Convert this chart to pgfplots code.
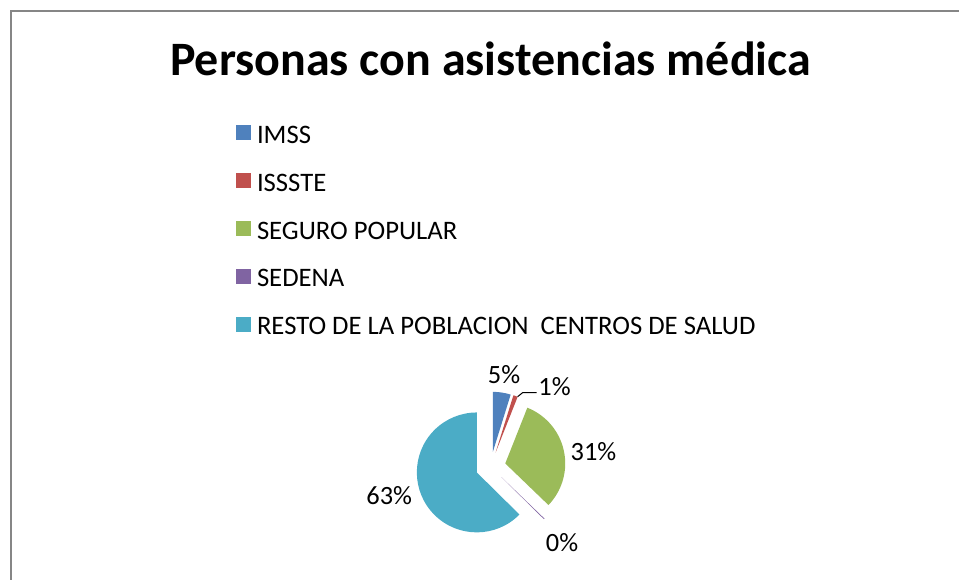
\documentclass[border=0pt]{standalone}
\usepackage{pgfplots}
\pgfplotsset{compat=1.18}
\usepackage{pgfplotstable}
\usetikzlibrary{calc}
\usepackage{fontspec}
\setmainfont{Carlito}

\definecolor{imss}{HTML}{4F81BD}
\definecolor{issste}{HTML}{C0504D}
\definecolor{segpop}{HTML}{9BBB59}
\definecolor{sedena}{HTML}{8064A2}
\definecolor{resto}{HTML}{4BACC6}
\definecolor{framegray}{RGB}{134,134,134}

\pgfplotsset{pielegend/.style={legend image code/.code={\fill[##1] (0bp,-7bp) rectangle (15bp,8bp);}}}

% porcentajes de cada institucion
\pgfplotstableread{
value col
4.8 imss
1.2 issste
31.2 segpop
0.2 sedena
62.6 resto
}\piedata

\begin{document}
\begin{tikzpicture}
\begin{axis}[
  width=960bp, height=580bp, scale only axis,
  xmin=0, xmax=960, ymin=0, ymax=580, y dir=reverse,
  hide axis, clip=false,
  legend cell align=left,
  legend style={at={(axis cs:236,119.3)}, anchor=north west, draw=none, fill=none,
    inner sep=0pt, row sep=19.9bp, column sep=6bp,
    font=\fontsize{26.8}{32}\selectfont,
    nodes={inner sep=0pt, text height=24bp, text depth=4bp}},
]
\path (axis cs:0,0) rectangle (axis cs:960,580);
\draw[framegray, line width=1.5bp] (axis cs:11,580) -- (axis cs:11,11) -- (axis cs:960,11);

\node[anchor=base, inner sep=0pt, font=\bfseries\fontsize{48.2}{58}\selectfont]
  at (axis cs:491,76) {Personas con asistencias médica};

\addlegendimage{pielegend, fill=imss, draw=none}
\addlegendentry{IMSS}
\addlegendimage{pielegend, fill=issste, draw=none}
\addlegendentry{ISSSTE}
\addlegendimage{pielegend, fill=segpop, draw=none}
\addlegendentry{SEGURO POPULAR}
\addlegendimage{pielegend, fill=sedena, draw=none}
\addlegendentry{SEDENA}
\addlegendimage{pielegend, fill=resto, draw=none}
\addlegendentry{RESTO DE LA POBLACION\ \ CENTROS DE SALUD}

\pgfplotsextra{
  \pgfplotstablegetrowsof{\piedata}
  \pgfmathtruncatemacro\lastrow{\pgfplotsretval-1}
  \gdef\cumsum{0}
  \foreach \i in {0,...,\lastrow}{
    \pgfplotstablegetelem{\i}{value}\of\piedata \let\val\pgfplotsretval
    \pgfplotstablegetelem{\i}{col}\of\piedata \let\slicecol\pgfplotsretval
    \pgfmathsetmacro\astart{90-3.6*\cumsum}
    \pgfmathsetmacro\aend{\astart-3.6*\val}
    \pgfmathsetmacro\amid{(\astart+\aend)/2}
    \fill[\slicecol] ($(axis cs:491,467)+(\amid:15bp)$) -- ++(\astart:60bp)
      arc[start angle=\astart, end angle=\aend, radius=60bp] -- cycle;
    \pgfmathsetmacro\newcum{\cumsum+\val}
    \xdef\cumsum{\newcum}
  }
}

\draw[black, line width=1bp] (axis cs:518,397) -- (axis cs:523,393) -- (axis cs:537,393);
\begin{scope}[every node/.style={font=\fontsize{26.5}{32}\selectfont, inner sep=0pt}]
\node at (axis cs:504.5,375) {5\%};
\node at (axis cs:555,386.5) {1\%};
\node at (axis cs:594,452) {31\%};
\node at (axis cs:562.5,543) {0\%};
\node at (axis cs:389.5,495.5) {63\%};
\end{scope}
\end{axis}
\end{tikzpicture}
\end{document}
